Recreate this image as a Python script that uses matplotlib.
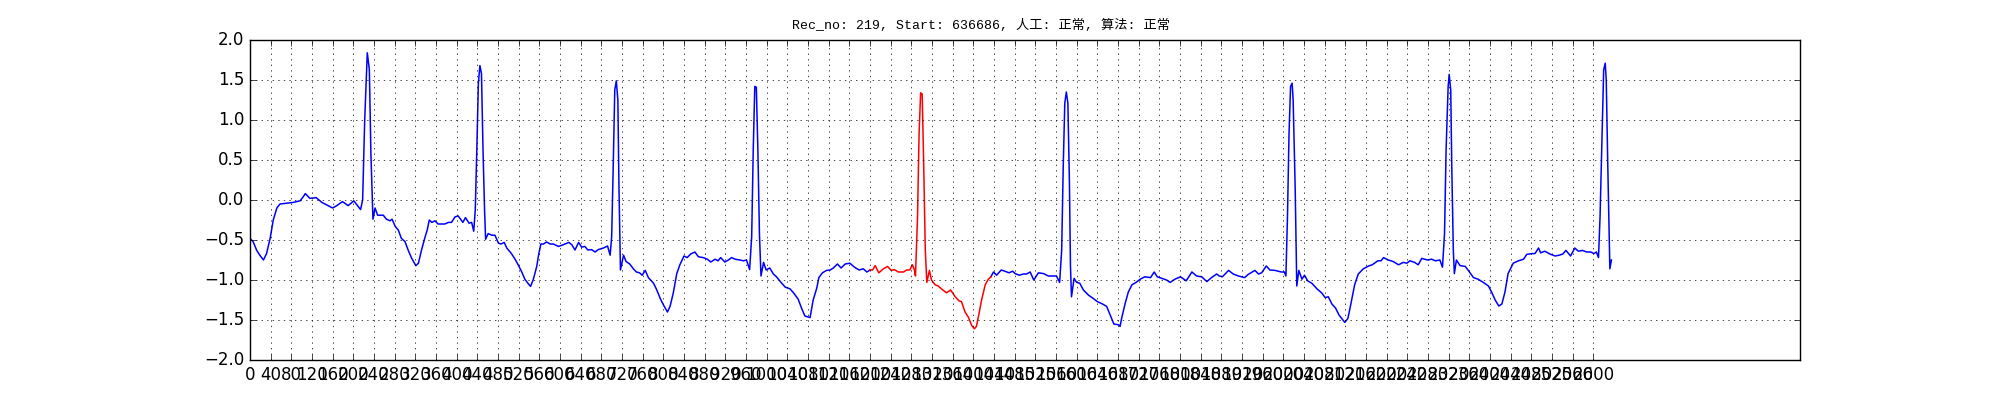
import matplotlib
matplotlib.use("Agg")
import matplotlib.pyplot as plt
import numpy as np

plt.style.use("classic")

title_text = "Rec_no: 219, Start: 636686, 人工: 正常, 算法: 正常"

sample_idx = [
    0, 6, 13, 19, 26, 32, 39, 45, 52, 58, 71, 84, 97, 103, 107, 116, 128, 139, 148, 160,
    168, 179, 190, 201, 208, 214, 218, 222, 227, 231, 234, 238, 242, 247, 258, 264, 271, 275, 281,
    287, 293, 300, 306, 313, 321, 326, 332, 339, 343, 347, 352, 358, 364, 377, 384, 390, 397, 403,
    412, 417, 424, 429, 433, 436, 439, 442, 445, 448, 451, 454, 456, 461, 468, 474, 481, 486, 492,
    497, 506, 513, 519, 526, 532, 539, 543, 548, 555, 559, 563, 568, 574, 581, 587, 597, 606, 617,
    623, 629, 636, 642, 648, 654, 661, 668, 674, 684,
    692, 697, 700, 703, 706, 709, 712, 714, 717, 723, 728, 735, 742, 748, 754, 759, 765, 771, 781,
    787, 794, 800, 808, 813, 819, 826, 832, 840, 846, 853, 861, 868, 877, 885, 892, 900, 906, 911,
    919, 926, 932, 939, 948, 955, 961, 967, 971, 974, 977, 980, 983, 986, 989, 994, 999, 1006, 1013,
    1019, 1029, 1036, 1045, 1052, 1061, 1068, 1074, 1084,
    1090, 1097, 1101, 1108, 1116, 1123, 1129, 1137, 1144, 1152, 1161, 1170, 1179, 1187, 1194, 1200,
    1205, 1210, 1217, 1226, 1234, 1241, 1247, 1255, 1265, 1271, 1277, 1282, 1286, 1288, 1292, 1295,
    1298, 1301, 1304, 1307, 1310, 1315, 1319, 1326, 1332, 1340, 1348, 1356, 1365, 1372, 1377, 1384,
    1390, 1397, 1402, 1406, 1411, 1416, 1423, 1429, 1434, 1439, 1445, 1454, 1461, 1469, 1476, 1481,
    1489, 1497, 1503, 1510, 1517, 1526, 1536, 1545, 1555, 1561, 1567, 1571, 1574, 1577, 1580, 1583,
    1586, 1588, 1590, 1595, 1600, 1606, 1613, 1623, 1632, 1640, 1650, 1658, 1665, 1672, 1681, 1684,
    1687, 1694, 1700, 1707, 1715, 1723, 1732, 1743, 1750, 1756, 1765, 1774, 1781, 1790, 1801, 1812,
    1823, 1832, 1842, 1852, 1861, 1871, 1876,
    1882, 1894, 1903, 1913, 1925, 1932, 1945, 1952, 1958, 1967, 1974, 1984, 1996, 2002, 2005, 2008,
    2011, 2014, 2017, 2019, 2023, 2026, 2030, 2036, 2041, 2047, 2055, 2065, 2074, 2081, 2087, 2094,
    2101, 2108, 2114, 2119, 2125, 2131, 2138, 2145, 2155, 2165, 2172, 2183, 2189, 2194, 2203, 2213,
    2223, 2232, 2239, 2245, 2254, 2261, 2268,
    2279, 2287, 2294, 2303, 2308, 2312, 2315, 2319, 2321, 2324, 2326, 2329, 2331, 2335, 2342, 2352,
    2358, 2368, 2377, 2387, 2397, 2403, 2410, 2417, 2423, 2429, 2435, 2445, 2455, 2465, 2471, 2481,
    2487, 2494, 2498, 2506, 2516, 2526, 2534, 2541, 2547, 2556, 2564, 2571, 2579, 2587, 2595, 2601,
    2606, 2610, 2613, 2617, 2620, 2623, 2625, 2628, 2632, 2635,
]
amplitude = [
    -0.48, -0.52, -0.63, -0.69, -0.75, -0.67, -0.48, -0.25, -0.10, -0.05, -0.04, -0.03, -0.01, 0.04, 0.08, 0.02, 0.03, -0.03, -0.06, -0.10,
    -0.07, -0.02, -0.07, -0.01, -0.07, -0.12, 0.0, 1.0, 1.84, 1.63, 0.58, -0.24, -0.10, -0.19, -0.19, -0.24, -0.26, -0.24, -0.33,
    -0.375, -0.48, -0.52, -0.625, -0.73, -0.82, -0.79, -0.625, -0.46, -0.375, -0.25, -0.28, -0.26, -0.30, -0.30, -0.28, -0.28, -0.21, -0.20,
    -0.28, -0.22, -0.29, -0.28, -0.39, -0.125, 0.625, 1.46, 1.68, 1.58, 0.625, -0.125, -0.49, -0.42, -0.44, -0.44, -0.54, -0.55, -0.53,
    -0.60, -0.67, -0.74, -0.81, -0.90, -0.99, -1.05, -1.08, -1.0, -0.83, -0.67, -0.55, -0.55, -0.525, -0.55, -0.55, -0.58, -0.56, -0.53,
    -0.56, -0.625, -0.53, -0.59, -0.58, -0.625, -0.62, -0.65, -0.62, -0.60,
    -0.575, -0.69, -0.46, 0.42, 1.375, 1.49, 1.25, 0.21, -0.875, -0.69, -0.77, -0.80, -0.86, -0.90, -0.91, -0.94, -0.88, -0.97, -1.04,
    -1.12, -1.23, -1.31, -1.40, -1.33, -1.17, -0.92, -0.81, -0.70, -0.72, -0.675, -0.65, -0.71, -0.72, -0.74, -0.775, -0.74, -0.76, -0.72,
    -0.775, -0.75, -0.72, -0.74, -0.75, -0.76, -0.75, -0.87, -0.46, 0.625, 1.42, 1.41, 0.625, -0.42, -0.95, -0.78, -0.875, -0.85, -0.925,
    -0.96, -1.04, -1.09, -1.11, -1.16, -1.24, -1.36, -1.45, -1.47,
    -1.25, -1.10, -0.97, -0.91, -0.88, -0.875, -0.85, -0.80, -0.85, -0.80, -0.79, -0.84, -0.875, -0.86, -0.90, -0.875,
    -0.875, -0.82, -0.91, -0.86, -0.83, -0.88, -0.87, -0.90, -0.90, -0.875, -0.875, -0.81, -0.875, -0.95, -0.21, 0.83,
    1.34, 1.325, 0.42, -0.625, -1.03, -0.88, -1.0, -1.06, -1.075, -1.12, -1.16, -1.125, -1.21, -1.26, -1.27, -1.40,
    -1.46, -1.57, -1.61, -1.58, -1.42, -1.25, -1.06, -0.99, -0.96, -0.90, -0.94, -0.875, -0.89, -0.91, -0.89, -0.92,
    -0.94, -0.925, -0.925, -0.90, -1.0, -0.91, -0.92, -0.95, -0.95, -0.95, -1.03, -0.625, 0.42, 1.21, 1.35, 1.21,
    0.21, -0.83, -1.21, -0.98, -1.03, -1.04, -1.125, -1.19, -1.23, -1.27, -1.30, -1.33, -1.44, -1.55, -1.56, -1.58,
    -1.48, -1.29, -1.15, -1.06, -1.03, -0.99, -0.96, -0.97, -0.90, -0.96, -0.98, -1.0, -1.03, -0.99, -0.96, -1.01,
    -0.90, -0.95, -0.96, -1.02, -0.97, -0.925, -0.95,
    -0.96, -0.88, -0.925, -0.95, -0.97, -0.93, -0.88, -0.925, -0.91, -0.825, -0.875, -0.88, -0.90, -0.90, -0.95, -0.21,
    0.83, 1.42, 1.46, 1.25, 0.125, -1.075, -0.88, -0.99, -0.94, -1.01, -1.04, -1.11, -1.16, -1.22, -1.21, -1.30,
    -1.35, -1.44, -1.49, -1.53, -1.48, -1.29, -1.06, -0.925, -0.86, -0.825, -0.81, -0.76, -0.76, -0.72, -0.75, -0.77,
    -0.81, -0.78, -0.79, -0.76, -0.78, -0.81, -0.73,
    -0.75, -0.74, -0.76, -0.75, -0.84, -0.42, 0.625, 1.42, 1.57, 1.375, 0.42, -0.625, -0.92, -0.75, -0.82, -0.83,
    -0.88, -0.97, -0.99, -1.03, -1.075, -1.15, -1.25, -1.325, -1.30, -1.15, -0.92, -0.79, -0.76, -0.74, -0.68, -0.67,
    -0.67, -0.60, -0.66, -0.64, -0.675, -0.70, -0.69, -0.675, -0.63, -0.70, -0.60, -0.64, -0.63, -0.65, -0.65, -0.67,
    -0.65, -0.72, -0.21, 0.83, 1.625, 1.71, 1.5, 0.42, -0.86, -0.75,
]

# highlighted beat (sample range drawn in red)
red_start = 1200
red_end = 1434

x_ticks = list(range(0, 2601, 40))
y_ticks = [-2.0, -1.5, -1.0, -0.5, 0.0, 0.5, 1.0, 1.5, 2.0]

idx = np.array(sample_idx)
amp = np.array(amplitude)

fig = plt.figure(figsize=(20, 4), dpi=100, facecolor="white")
ax = fig.add_axes([0.125, 0.1, 0.775, 0.8])
ax.set_facecolor("white")

before = idx <= red_start
inside = (idx >= red_start) & (idx <= red_end)
after = idx >= red_end
ax.plot(idx[before], amp[before], color="b", linewidth=1.1)
ax.plot(idx[after], amp[after], color="b", linewidth=1.1)
ax.plot(idx[inside], amp[inside], color="r", linewidth=1.1)

ax.set_xlim(0, 3000)
ax.set_ylim(-2.0, 2.0)
ax.set_xticks(x_ticks)
ax.set_yticks(y_ticks)
ax.tick_params(labelsize=12)
ax.grid(True, color="k", linestyle=":", linewidth=0.5)

ax.text(0.4716, 1.025, title_text, transform=ax.transAxes, ha="center", va="bottom",
        fontsize=9.5, family=["Liberation Mono", "Noto Sans CJK SC", "DejaVu Sans"])

fig.savefig("out.png", dpi=100, facecolor="white")
